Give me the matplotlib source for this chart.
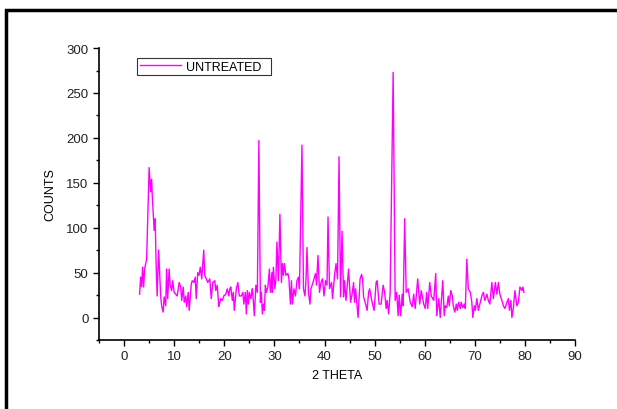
import matplotlib
matplotlib.use("Agg")
import matplotlib.pyplot as plt
from matplotlib.patches import Rectangle
from matplotlib.ticker import MultipleLocator

plt.rcParams['font.family'] = ['Liberation Sans', 'DejaVu Sans']

# XRD pattern
two_theta = [
    3.1, 3.3, 3.5, 3.7, 3.9, 4.1, 4.5, 5.0, 5.3, 5.5, 5.6, 6.0, 6.2, 6.4, 6.6, 6.9,
    7.3, 7.5, 7.8, 8.0, 8.3, 8.5, 8.7, 9.0, 9.2, 9.5, 9.7, 10.0, 10.3, 10.6, 11.0,
    11.3, 11.5, 11.8, 12.0, 12.3, 12.5, 12.8, 13.0, 13.4, 13.6, 13.95, 14.2, 14.4,
    14.7, 14.95, 15.2, 15.5, 15.9, 16.1, 16.4, 16.7, 17.1, 17.4, 17.7, 18.1, 18.3,
    18.6, 18.9, 19.3, 19.6, 19.9, 20.3, 20.6, 20.9, 21.1,
    21.3, 21.6, 21.8, 22.0, 22.4, 22.7, 23.0, 23.4, 23.7, 23.9, 24.2, 24.4, 24.6,
    24.8, 25.0, 25.3, 25.6, 25.7, 26.0, 26.3, 26.6, 26.9, 27.2, 27.4, 27.6, 27.8,
    28.0, 28.2, 28.4, 28.7, 29.0, 29.2, 29.5, 29.6, 29.8, 30.1, 30.3, 30.5, 30.8,
    31.1, 31.4, 31.6, 31.8, 32.0, 32.3, 32.7, 32.9, 33.2, 33.4, 33.6, 33.9, 34.2,
    34.5, 34.8, 35.0, 35.5, 35.8, 36.1, 36.3, 36.5, 36.8, 37.1, 37.3, 37.7, 37.9,
    38.2, 38.4, 38.7, 38.9, 39.0, 39.3, 39.6, 39.9, 40.2, 40.5,
    40.7, 41.0, 41.4, 41.6, 42.0, 42.3, 42.6, 42.9, 43.2, 43.5, 43.8, 44.0, 44.3,
    44.8, 45.2, 45.5, 45.8, 46.0, 46.2, 46.7, 47.1, 47.4, 47.6, 47.8, 48.1, 48.5,
    48.8, 49.0, 49.5, 49.9, 50.3, 50.5, 50.9, 51.3, 51.7, 52.0, 52.3, 52.5, 52.8,
    53.1, 53.7, 54.1, 54.4, 54.7, 54.9, 55.2, 55.5, 55.7, 56.0, 56.3, 56.7, 57.1,
    57.5, 57.8, 58.1, 58.6, 59.0, 59.3, 59.8,
    60.1, 60.4, 60.6, 61.0, 61.3, 61.8, 62.2, 62.4, 62.8, 63.1, 63.6, 63.9, 64.1,
    64.4, 64.7, 64.9, 65.2, 65.5, 65.7, 66.0, 66.3, 66.5, 66.8, 67.1, 67.3, 67.6,
    67.9, 68.1, 68.4, 68.7, 69.1, 69.4, 69.6, 69.9, 70.1, 70.4, 70.7, 71.1, 71.4,
    71.7, 72.0, 72.4, 72.7, 73.0, 73.4, 73.7, 74.1, 74.4, 74.7, 75.0, 75.4, 75.7,
    76.0, 76.4, 76.7, 76.9, 77.2, 77.4, 77.7, 78.0, 78.4, 78.7, 79.0, 79.4, 79.6,
    79.8,
]
counts = [
    26, 45, 34, 56, 34, 54, 65, 167, 140, 154, 138, 97, 110, 58, 24, 75,
    24, 13, 6, 23, 13, 54, 21, 54, 36, 30, 41, 28, 26, 24, 39,
    34, 19, 34, 17, 24, 12, 28, 8, 37, 41, 39, 45, 21,
    50, 47, 56, 43, 75, 47, 43, 39, 43, 21, 39, 41, 30,
    36, 12, 21, 19, 24, 26, 32, 24, 32,
    34, 19, 28, 8, 32, 39, 24, 24, 28, 15, 28, 4, 30,
    15, 28, 21, 32, 26, 2, 36, 28, 197, 17, 28, 4, 15,
    8, 36, 28, 34, 54, 28, 50, 28, 56, 32, 43, 84, 41,
    115, 39, 60, 47, 60, 47, 49, 43, 15, 41, 15, 32, 24,
    41, 45, 32, 192, 32, 24, 41, 78, 28, 15, 32, 39, 43,
    49, 36, 69, 41, 28, 39, 43, 24, 41, 36,
    112, 32, 39, 21, 47, 60, 43, 179, 23, 96, 23, 41, 19,
    54, 17, 26, 39, 17, 32, 0, 43, 48, 43, 23, 17, 8,
    28, 32, 17, 8, 39, 41, 15, 15, 36, 28, 10, 19, 4,
    28, 273, 19, 28, 2, 25, 2, 26, 13, 110, 28, 32, 17,
    12, 26, 10, 43, 15, 30, 15,
    10, 28, 10, 39, 24, 19, 49, 2, 21, 0, 41, 2, 13,
    11, 24, 13, 30, 24, 13, 6, 15, 8, 17, 10, 17, 11,
    15, 10, 65, 32, 28, 17, 0, 13, 8, 21, 8, 17, 24,
    28, 19, 26, 19, 15, 39, 21, 39, 26, 39, 26, 19, 13,
    10, 17, 21, 8, 19, 0, 11, 30, 13, 17, 34, 30, 34,
    28,
]

x_ticks = [0, 10, 20, 30, 40, 50, 60, 70, 80, 90]
y_ticks = [0, 50, 100, 150, 200, 250, 300]

fig = plt.figure(figsize=(6.17, 4.10), dpi=100)
ax = fig.add_axes([0.1605, 0.1683, 0.7715, 0.712])

ax.plot(two_theta, counts, color='#ff00ff', lw=1.0, label='UNTREATED  ')

ax.set_xlim(-5, 90)
ax.set_ylim(-25, 300)
ax.set_xticks(x_ticks)
ax.set_yticks(y_ticks)
ax.xaxis.set_minor_locator(MultipleLocator(5))
ax.yaxis.set_minor_locator(MultipleLocator(25))
ax.tick_params(which='major', direction='out', length=4, width=1, labelsize=9.5,
               colors='black', labelcolor='#222222')
ax.tick_params(which='minor', direction='out', length=2.5, width=1)

for side in ['top', 'right']:
    ax.spines[side].set_visible(False)
for side in ['left', 'bottom']:
    ax.spines[side].set_linewidth(1.2)

ax.set_xlabel('2 THETA', fontsize=9, labelpad=5)
ax.set_ylabel('COUNTS', fontsize=9, labelpad=7)

leg = ax.legend(loc='upper left', bbox_to_anchor=(0.08, 0.965), fontsize=9,
                fancybox=False, frameon=True, handlelength=3.3, borderpad=0.2,
                handletextpad=0.45, borderaxespad=0)
leg.get_frame().set_edgecolor('black')
leg.get_frame().set_linewidth(0.8)

# outer frame around the graph page
fig.patches.append(Rectangle((5.5 / 617, -0.2), 1.2, 0.2 + (410 - 11) / 410,
                             transform=fig.transFigure, fill=False,
                             edgecolor='black', lw=2.5, clip_on=False))

fig.savefig('out.png', dpi=100)
